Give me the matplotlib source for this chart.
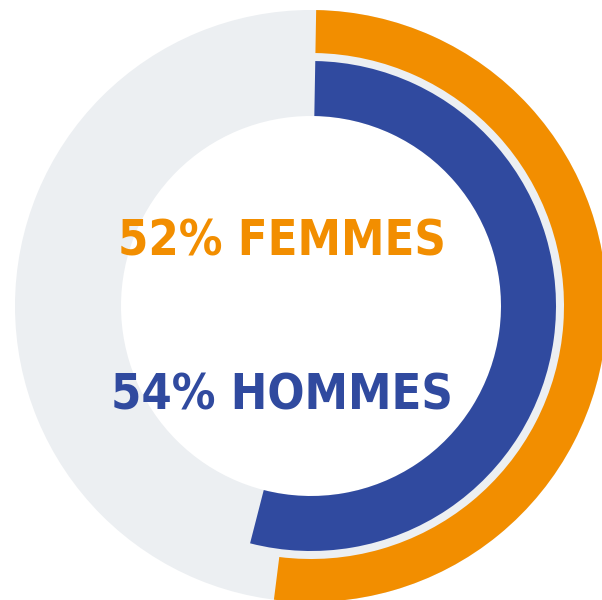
import matplotlib
matplotlib.use("Agg")
import matplotlib.pyplot as plt
from matplotlib.patches import Wedge

# Share of each group
labels = ["FEMMES", "HOMMES"]
values = [52, 54]  # percent
colors = ["#F28E00", "#304A9F"]
track_color = "#ECEFF2"

W, H = 602, 600
fig = plt.figure(figsize=(W / 100, H / 100), dpi=100)
ax = fig.add_axes([0, 0, 1, 1])
ax.set_xlim(0, W)
ax.set_ylim(0, H)
ax.set_aspect("equal")
ax.axis("off")

cx, cy = 311, H - 306
r_outer = 296
r_inner = 190

# Outer ring (women) and inner ring (men): (outer radius, width)
rings = [(296, 43), (245, 55)]

# Background track
ax.add_patch(Wedge((cx, cy), r_outer, 0, 360, width=r_outer - r_inner,
                   facecolor=track_color, edgecolor="none"))

start_pad = 1.0  # degrees
for (ro, w), v, c in zip(rings, values, colors):
    theta2 = 90 - start_pad
    theta1 = 90 - 360 * v / 100
    ax.add_patch(Wedge((cx, cy), ro, theta1, theta2, width=w,
                       facecolor=c, edgecolor="none"))

text_y = [H - 241, H - 395]
for lab, v, c, ty in zip(labels, values, colors, text_y):
    ax.text(282, ty, f"{v}% {lab}", color=c, fontsize=35, fontweight="bold",
            fontstretch="condensed", family="DejaVu Sans",
            ha="center", va="center")

fig.savefig("out.png", dpi=100)
